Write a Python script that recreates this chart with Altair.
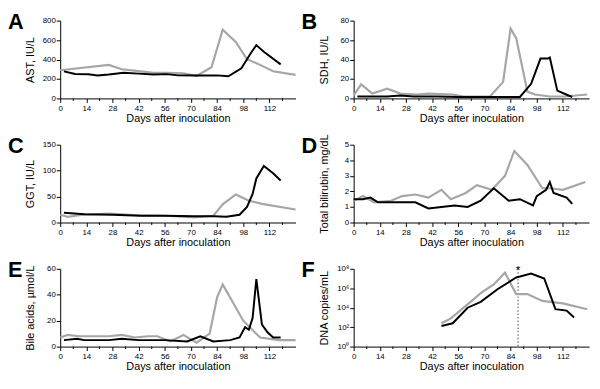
import altair as alt
import pandas as pd

# ---------------- data ----------------
# A: AST, IU/L
A_black_days = [2, 8, 15, 20, 26, 34, 42, 50, 57, 63, 73, 84, 90, 97, 102, 105, 109, 118]
A_black_vals = [278, 252, 248, 235, 245, 265, 255, 245, 250, 237, 235, 237, 228, 310, 465, 548, 480, 350]
A_gray_days = [0, 26, 33, 42, 50, 57, 66, 73, 81, 87, 94, 100, 107, 114, 126]
A_gray_vals = [290, 345, 300, 280, 262, 262, 258, 232, 320, 706, 580, 403, 345, 280, 242]

# B: SDH, IU/L
B_black_days = [2, 10, 18, 25, 32, 45, 56, 70, 89, 95, 100, 104, 105, 109, 115, 117]
B_black_vals = [2, 2, 2, 3, 2, 2, 1.5, 1.5, 1.5, 15, 41, 41, 42, 8, 3, 1.5]
B_gray_days = [0, 4, 10, 18, 25, 34, 40, 53, 59, 73, 80, 84, 87, 93, 97, 105, 113, 125]
B_gray_vals = [3, 14.5, 5, 10, 5, 4, 5, 4, 2, 2, 17, 72, 62, 7, 4, 2, 2, 4]

# C: GGT, IU/L
C_black_days = [2, 13, 28, 43, 56, 72, 82, 89, 96, 100, 103, 105, 109, 114, 118]
C_black_vals = [19, 16, 15, 13, 13, 12, 12, 11, 15, 30, 55, 85, 109, 95, 81]
C_gray_days = [0, 4, 12, 26, 42, 56, 72, 82, 87, 94, 101, 108, 126]
C_gray_vals = [15, 11, 15, 17, 14, 13, 10, 13, 35, 54, 42, 36, 25]

# D: Total bilirubin, mg/dL
D_black_days = [0, 5, 9, 13, 20, 33, 40, 47, 54, 61, 68, 75, 83, 89, 96, 98, 103, 105, 107, 114, 117]
D_black_vals = [1.5, 1.5, 1.6, 1.3, 1.3, 1.3, 0.9, 1.0, 1.1, 1.0, 1.4, 2.2, 1.4, 1.5, 1.1, 1.7, 2.1, 2.6, 1.9, 1.6, 1.2]
D_gray_days = [0, 5, 11, 20, 26, 33, 40, 47, 52, 60, 66, 74, 81, 86, 93, 101, 105, 112, 124]
D_gray_vals = [1.4, 1.7, 1.3, 1.4, 1.7, 1.8, 1.6, 2.1, 1.5, 1.9, 2.4, 2.1, 3.0, 4.6, 3.7, 2.2, 2.2, 2.1, 2.6]

# E: Bile acids, umol/L
E_black_days = [2, 9, 13, 26, 33, 42, 56, 68, 75, 82, 91, 96, 99, 101, 103, 105, 108, 111, 114, 118]
E_black_vals = [5, 6, 5, 5, 6, 5, 5, 4, 8, 4, 5, 7, 15, 13, 22, 52, 17, 11, 7, 7]
E_gray_days = [0, 4, 10, 26, 33, 40, 47, 52, 59, 66, 73, 80, 84, 87, 98, 107, 117, 126]
E_gray_vals = [7, 9, 8, 8, 9, 7, 8, 8, 4, 9, 3, 10, 38, 48, 20, 7, 5, 5]

# F: DNA copies/mL
F_black_days = [47, 53, 61, 68, 77, 87, 89, 95, 102, 108, 114, 118]
F_black_vals = [1.3e2, 2.5e2, 1.0e4, 4.0e4, 8.0e5, 1.3e7, 1.6e7, 3.2e7, 1.0e7, 7.0e3, 5.0e3, 1.0e3]
F_gray_days = [47, 52, 61, 68, 75, 81, 87, 93, 101, 112, 125]
F_gray_vals = [2.5e2, 8.0e2, 2.2e4, 3.2e5, 2.5e6, 4.0e7, 2.5e5, 2.5e5, 5.0e4, 2.8e4, 7.0e3]
F_marker_day = [88]

x_ticks = [0, 14, 28, 42, 56, 70, 84, 98, 112]
x_minor = [7, 21, 35, 49, 63, 77, 91, 105, 119]

W, H = 239, 79
FONT = "Liberation Sans"
BLACK = "#000000"
GRAY = "#a6a6a6"

xscale = alt.Scale(domain=[0, 126], nice=False, zero=False)
xaxis = alt.Axis(values=x_ticks, title="Days after inoculation", titleY=20,
                 titleBaseline="middle", labelFlush=False, tickSize=4,
                 labelPadding=2, grid=False)


def panel(letter, ytitle, bd, bv, gd, gv, ydom, yvals, log=False, marker=None):
    X = alt.X("day:Q", scale=xscale, axis=xaxis)
    if log:
        yscale = alt.Scale(type="log", domain=ydom, nice=False)
        yaxis = alt.Axis(values=yvals, title=ytitle, titleX=-30, titleY=H / 2,
                         titleBaseline="middle", tickSize=4, labelPadding=1, grid=False,
                         labelExpr="'10' + ['\u2070','\u00b9','\u00b2','\u00b3','\u2074','\u2075','\u2076','\u2077','\u2078'][round(log(datum.value)/LN10)]")
    else:
        yscale = alt.Scale(domain=ydom, nice=False)
        yaxis = alt.Axis(values=yvals, title=ytitle, titleX=-30, titleY=H / 2,
                         titleBaseline="middle", tickSize=4, labelPadding=1, grid=False)
    Y = alt.Y("value:Q", scale=yscale, axis=yaxis)

    gray = alt.Chart(pd.DataFrame({"day": gd, "value": gv})).mark_line(
        color=GRAY, strokeWidth=2.2).encode(x=X, y=Y)
    black = alt.Chart(pd.DataFrame({"day": bd, "value": bv})).mark_line(
        color=BLACK, strokeWidth=2).encode(x=X, y=Y)
    minor = alt.Chart(pd.DataFrame({"day": x_minor})).mark_rule(
        color=BLACK, strokeWidth=1).encode(x=X, y=alt.value(H), y2=alt.value(H + 2.5))
    lab = alt.Chart(pd.DataFrame({"t": [letter]})).mark_text(
        font=FONT, fontWeight="bold", fontSize=22, align="left", baseline="alphabetic",
        color=BLACK).encode(text="t:N", x=alt.value(-53), y=alt.value(8))
    layers = [gray, black, minor, lab]
    if marker is not None:
        mdf = pd.DataFrame({"day": marker, "top": [ydom[1]], "bot": [ydom[0]], "s": ["*"]})
        rule = alt.Chart(mdf).mark_rule(color="#707070", strokeWidth=1.3,
                                        strokeDash=[1.5, 2]).encode(
            x=X, y=alt.Y("top:Q", scale=yscale, axis=yaxis), y2="bot:Q")
        star = alt.Chart(mdf).mark_text(font=FONT, fontSize=12, color=BLACK,
                                        baseline="alphabetic").encode(
            x=X, y=alt.value(5), text="s:N")
        layers = [rule] + layers + [star]
    return alt.layer(*layers).properties(width=W, height=H)


pA = panel("A", "AST, IU/L", A_black_days, A_black_vals, A_gray_days, A_gray_vals,
           [0, 800], [0, 200, 400, 600, 800])
pB = panel("B", "SDH, IU/L", B_black_days, B_black_vals, B_gray_days, B_gray_vals,
           [0, 80], [0, 20, 40, 60, 80])
pC = panel("C", "GGT, IU/L", C_black_days, C_black_vals, C_gray_days, C_gray_vals,
           [0, 150], [0, 50, 100, 150])
pD = panel("D", "Total bilirubin, mg/dL", D_black_days, D_black_vals, D_gray_days, D_gray_vals,
           [0, 5], [0, 1, 2, 3, 4, 5])
pE = panel("E", "Bile acids, \u00b5mol/L", E_black_days, E_black_vals, E_gray_days, E_gray_vals,
           [0, 60], [0, 20, 40, 60])
pF = panel("F", "DNA copies/mL", F_black_days, F_black_vals, F_gray_days, F_gray_vals,
           [1, 1e8], [1, 1e2, 1e4, 1e6, 1e8], log=True, marker=F_marker_day)

chart = alt.concat(pA, pB, pC, pD, pE, pF, columns=2,
                   spacing={"row": 47, "column": 59}, bounds="flush").properties(
    padding={"left": 0, "top": 0, "right": 0, "bottom": 0}
).configure_view(stroke=None).configure_axis(
    labelFont=FONT, titleFont=FONT, labelFontSize=8, titleFontSize=11,
    titleFontWeight="normal", labelColor=BLACK, titleColor=BLACK,
    domainColor=BLACK, tickColor=BLACK, domainWidth=1, tickWidth=1
)

chart.save("out.html", embed_options={"renderer": "svg", "actions": False})
